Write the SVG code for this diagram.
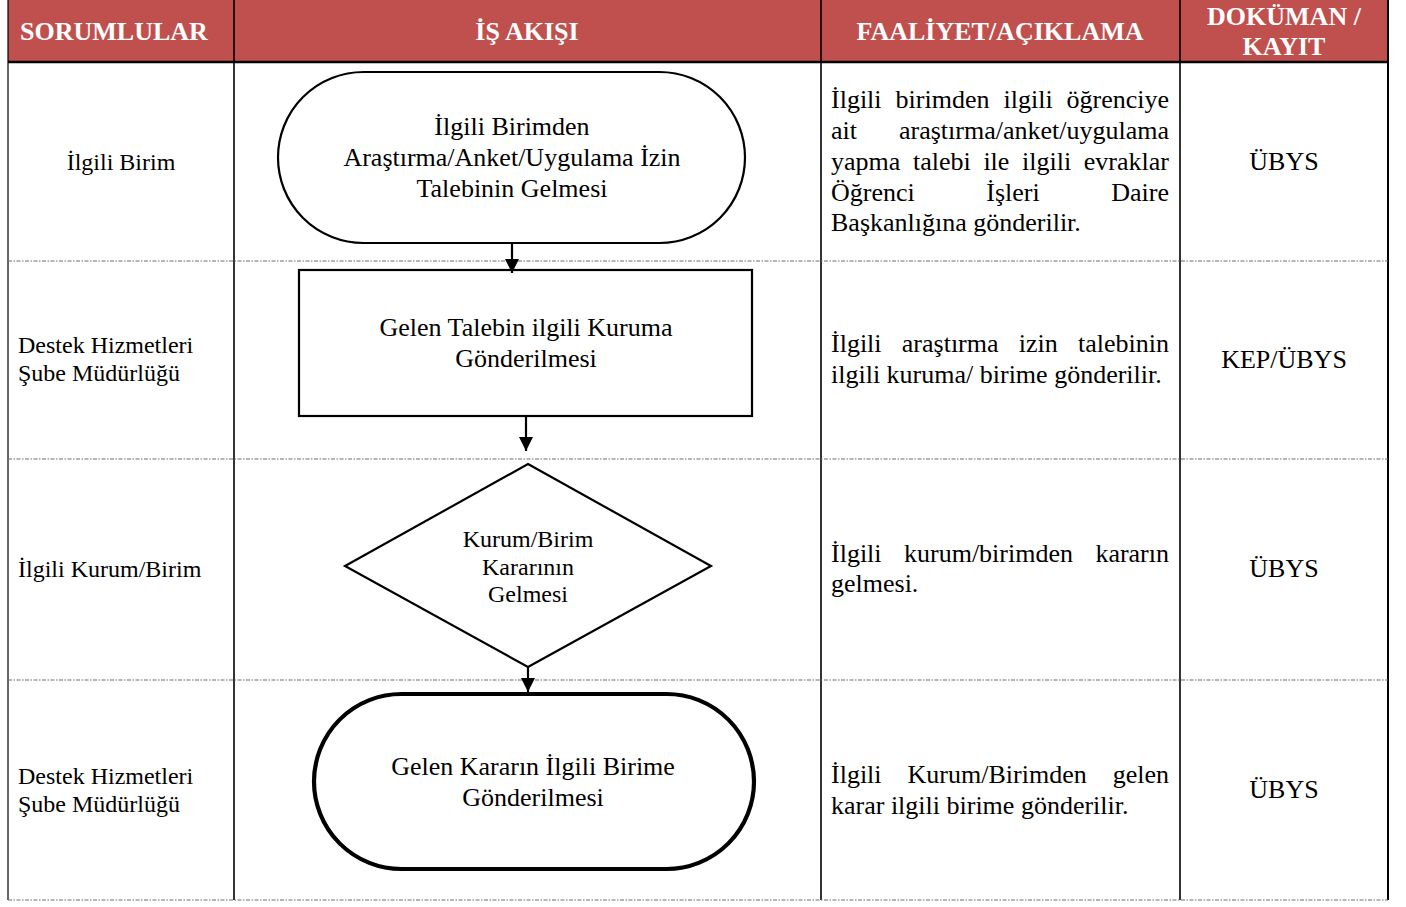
<svg xmlns="http://www.w3.org/2000/svg" width="1406" height="907" viewBox="0 0 1406 907">
<style>
.hd{font-family:"Liberation Serif","Times New Roman",serif;font-weight:bold;font-size:26px;fill:#ffffff;text-anchor:middle}
.t{font-family:"Liberation Serif","Times New Roman",serif;font-size:26px;fill:#000}
.s{font-family:"Liberation Serif","Times New Roman",serif;font-size:24px;fill:#000}
.c{text-anchor:middle}
.e{text-anchor:end}
.vl{stroke:#000;stroke-width:1.6}
.sep{stroke:#6e6e6e;stroke-width:1.2;stroke-dasharray:4 1.5 1.5 1.5}
.shape{fill:#fff;stroke:#000;stroke-width:2.2}
.conn{stroke:#000;stroke-width:2.2;fill:none}
</style>
<defs>
<marker id="ah" viewBox="0 0 14 14" refX="14" refY="7" markerWidth="14" markerHeight="14" markerUnits="userSpaceOnUse" orient="auto">
<path d="M0,0 L14,7 L0,14 z" fill="#000"/>
</marker>
</defs>
<rect width="1406" height="907" fill="#fff"/>
<g id="header">
<rect x="8" y="0" width="1380" height="62" fill="#C0504D"/>
<text class="hd" x="114" y="40">SORUMLULAR</text>
<text class="hd" x="527" y="40">İŞ AKIŞI</text>
<text class="hd" x="1000" y="40">FAALİYET/AÇIKLAMA</text>
<text class="hd" x="1284" y="25">DOKÜMAN /</text>
<text class="hd" x="1284" y="55">KAYIT</text>
</g>
<g id="grid">
<line class="vl" x1="8" y1="0" x2="8" y2="900" style="stroke-width:1.2"/>
<line class="vl" x1="234" y1="0" x2="234" y2="900"/>
<line class="vl" x1="821" y1="0" x2="821" y2="900"/>
<line class="vl" x1="1180" y1="0" x2="1180" y2="900"/>
<line class="vl" x1="1388" y1="0" x2="1388" y2="900" style="stroke-width:2"/>
<line x1="8" y1="62" x2="1388" y2="62" stroke="#000" stroke-width="2.6"/>
<line class="sep" x1="8" y1="261" x2="1388" y2="261"/>
<line class="sep" x1="8" y1="459" x2="1388" y2="459"/>
<line class="sep" x1="8" y1="680" x2="1388" y2="680"/>
<line class="sep" x1="8" y1="900" x2="1388" y2="900"/>
</g>
<g id="responsibles">
<text class="s c" x="121" y="170">İlgili Birim</text>
<text class="s" x="18" y="353">Destek Hizmetleri</text>
<text class="s" x="18" y="381">Şube Müdürlüğü</text>
<text class="s" x="18" y="577">İlgili Kurum/Birim</text>
<text class="s" x="18" y="784">Destek Hizmetleri</text>
<text class="s" x="18" y="812">Şube Müdürlüğü</text>
</g>
<g id="node1">
<rect class="shape" x="278" y="72" width="467" height="171" rx="85.5" ry="85.5"/>
<text class="t c" x="512" y="135">İlgili Birimden</text>
<text class="t c" x="512" y="166">Araştırma/Anket/Uygulama İzin</text>
<text class="t c" x="512" y="197">Talebinin Gelmesi</text>
</g>
<g id="node2">
<rect class="shape" x="299" y="270" width="453" height="146"/>
<text class="t c" x="526" y="336">Gelen Talebin ilgili Kuruma</text>
<text class="t c" x="526" y="367">Gönderilmesi</text>
</g>
<g id="node3">
<polygon class="shape" points="528,464 711,566 528,667 345,566"/>
<text class="s c" x="528" y="547">Kurum/Birim</text>
<text class="s c" x="528" y="575">Kararının</text>
<text class="s c" x="528" y="602">Gelmesi</text>
</g>
<g id="node4">
<rect x="314" y="694" width="440" height="175" rx="87.5" ry="87.5" fill="#fff" stroke="#000" stroke-width="4.2"/>
<text class="t c" x="533" y="775">Gelen Kararın İlgili Birime</text>
<text class="t c" x="533" y="806">Gönderilmesi</text>
</g>
<g id="connectors">
<line class="conn" x1="512" y1="243" x2="512" y2="273" marker-end="url(#ah)"/>
<line class="conn" x1="526" y1="416" x2="526" y2="451" marker-end="url(#ah)"/>
<line class="conn" x1="528" y1="667" x2="528" y2="692" marker-end="url(#ah)"/>
</g>
<g id="descriptions">
<text class="t" y="108"><tspan x="831">İlgili</tspan><tspan x="895.6">birimden</tspan><tspan x="1003.5">ilgili</tspan></text>
<text class="t e" x="1169" y="108">öğrenciye</text>
<text class="t" x="831" y="139">ait</text>
<text class="t e" x="1169" y="139">araştırma/anket/uygulama</text>
<text class="t" y="170"><tspan x="831">yapma</tspan><tspan x="913">talebi</tspan><tspan x="983.4">ile</tspan><tspan x="1022">ilgili</tspan></text>
<text class="t e" x="1169" y="170">evraklar</text>
<text class="t" x="831" y="201">Öğrenci</text>
<text class="t" x="986.3" y="201">İşleri</text>
<text class="t e" x="1169" y="201">Daire</text>
<text class="t" x="831" y="231">Başkanlığına gönderilir.</text>

<text class="t" y="352"><tspan x="831">İlgili</tspan><tspan x="901.8">araştırma</tspan><tspan x="1018.7">izin</tspan></text>
<text class="t e" x="1169" y="352">talebinin</text>
<text class="t" x="831" y="383">ilgili kuruma/ birime gönderilir.</text>

<text class="t" y="562"><tspan x="831">İlgili</tspan><tspan x="904">kurum/birimden</tspan></text>
<text class="t e" x="1169" y="562">kararın</text>
<text class="t" x="831" y="592">gelmesi.</text>

<text class="t" y="783"><tspan x="831">İlgili</tspan><tspan x="907.6">Kurum/Birimden</tspan></text>
<text class="t e" x="1169" y="783">gelen</text>
<text class="t" x="831" y="814">karar ilgili birime gönderilir.</text>
</g>
<g id="documents">
<text class="t c" x="1284" y="170">ÜBYS</text>
<text class="t c" x="1284" y="368">KEP/ÜBYS</text>
<text class="t c" x="1284" y="577">ÜBYS</text>
<text class="t c" x="1284" y="798">ÜBYS</text>
</g>
</svg>
